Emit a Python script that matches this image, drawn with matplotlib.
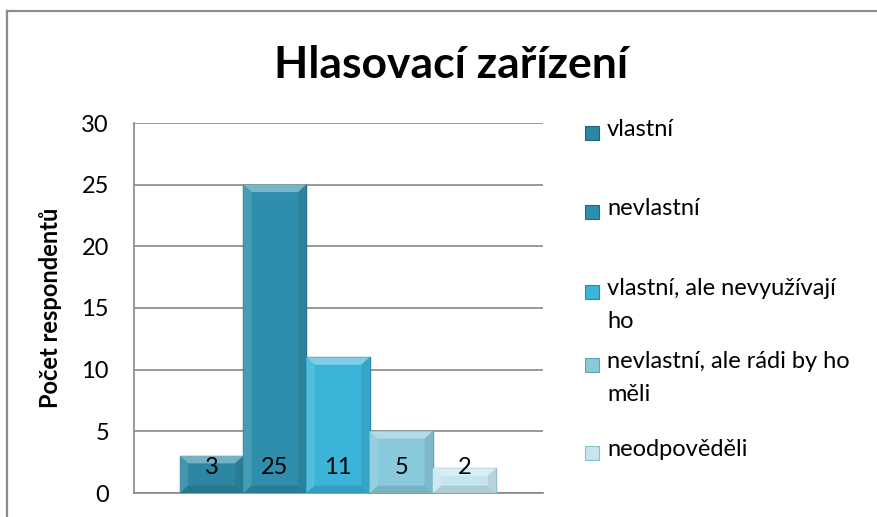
import matplotlib
matplotlib.use("Agg")
import matplotlib.pyplot as plt
import matplotlib.colors as mcolors
from matplotlib.patches import Rectangle, Polygon
from matplotlib.lines import Line2D

plt.rcParams['font.family'] = ['Lato', 'DejaVu Sans']

# data
categories = ["vlastní", "nevlastní", "vlastní, ale nevyužívají\nho",
              "nevlastní, ale rádi by ho\nměli", "neodpověděli"]
values = [3, 25, 11, 5, 2]
y_ticks = [0, 5, 10, 15, 20, 25, 30]
title = "Hlasovací zařízení"
y_label = "Počet respondentů"

colors = ["#2b87a2", "#2e8eab", "#3ab4d8", "#88c9dc", "#c6e6ef"]
edges = ["#1f6378", "#216a80", "#2a8aa8", "#5fa5b9", "#8fbfcc"]


def blend(c, other, t):
    a = mcolors.to_rgb(c)
    b = mcolors.to_rgb(other)
    return tuple(a[i] * (1 - t) + b[i] * t for i in range(3))


fig = plt.figure(figsize=(8.78, 5.17), dpi=100)
ax = fig.add_axes([134 / 878, 24 / 517, 409 / 878, 370 / 517])

x = list(range(len(values)))
bars = ax.bar(x, values, width=1.0, color=colors, edgecolor=edges, linewidth=1.0, zorder=3)

# simple bevel look: lighter top strip, darker bottom strip
bx, by = 0.13, 0.6
for b, c in zip(bars, colors):
    x0, w, h = b.get_x(), b.get_width(), b.get_height()
    top = Polygon([(x0, h), (x0 + w, h), (x0 + w - bx, h - by), (x0 + bx, h - by)],
                  closed=True, facecolor=blend(c, "white", 0.35), edgecolor="none", zorder=3.5)
    bot = Polygon([(x0, 0), (x0 + w, 0), (x0 + w - bx, by), (x0 + bx, by)],
                  closed=True, facecolor=blend(c, "black", 0.12), edgecolor="none", zorder=3.5)
    left = Polygon([(x0, 0), (x0, h), (x0 + bx, h - by), (x0 + bx, by)],
                   closed=True, facecolor=blend(c, "white", 0.12), edgecolor="none", zorder=3.5)
    right = Polygon([(x0 + w, 0), (x0 + w, h), (x0 + w - bx, h - by), (x0 + w - bx, by)],
                    closed=True, facecolor=blend(c, "black", 0.08), edgecolor="none", zorder=3.5)
    for p in (top, bot, left, right):
        ax.add_patch(p)

# value labels near the base of each bar
for xi, v in zip(x, values):
    ax.annotate(str(v), (xi, 0), xytext=(0, 18), textcoords="offset points",
                ha="center", va="center", fontsize=17, color="black", zorder=5)

ax.set_xlim(-1.228, 5.244)
ax.set_ylim(0, 30)
ax.set_yticks(y_ticks)
ax.set_xticks([])
ax.tick_params(axis="y", length=0, pad=18, labelsize=17)
ax.grid(axis="y", color="#878787", linewidth=1.2, zorder=0)
for s in ["top", "right"]:
    ax.spines[s].set_visible(False)
ax.spines["left"].set_color("#878787")
ax.spines["bottom"].set_color("#878787")
ax.spines["left"].set_linewidth(1.2)
ax.spines["bottom"].set_linewidth(1.2)

ax.set_ylabel(y_label, fontsize=17, fontweight="bold")
ax.yaxis.set_label_coords(-0.176, 0.5)

fig.text(451 / 878, 1 - 65 / 517, title, ha="center", va="center",
         fontsize=32, fontweight="bold")

# legend drawn by hand to follow the original spacing
leg_y = [133, 212, 292, 365, 453]
for label, c, e, yy in zip(categories, colors, edges, leg_y):
    fy = 1 - yy / 517
    fig.patches.append(Rectangle((585 / 878, fy - 7 / 517), 14 / 878, 14 / 517,
                                 transform=fig.transFigure, facecolor=c,
                                 edgecolor=e, linewidth=0.8))
    fig.text(607 / 878, fy + 14 / 517, label, ha="left", va="top",
             fontsize=17, linespacing=1.7)

# chart frame
fig.add_artist(Line2D([7 / 878, 7 / 878], [0, 1 - 11 / 517], transform=fig.transFigure,
                      color="#8c8c8c", linewidth=1.6))
fig.add_artist(Line2D([7 / 878, 1], [1 - 11 / 517, 1 - 11 / 517], transform=fig.transFigure,
                      color="#8c8c8c", linewidth=1.6))

fig.savefig("out.png", dpi=100)
